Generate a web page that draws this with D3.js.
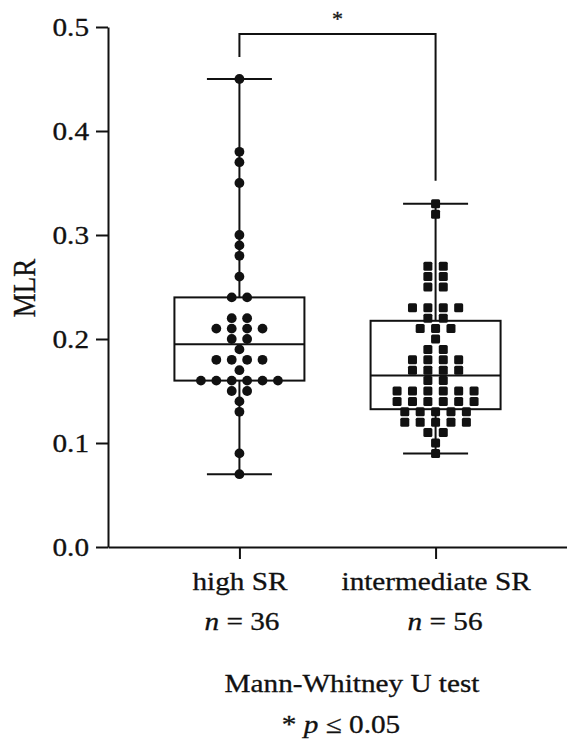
<!DOCTYPE html>
<html>
<head>
<meta charset="utf-8">
<script src="https://cdn.jsdelivr.net/npm/d3@7"></script>
<style>
  body { margin: 0; background: #fff; }
  text { font-family: "Liberation Serif", "Times New Roman", serif; fill: #111; stroke: #111; stroke-width: 0.3px; }
</style>
</head>
<body>
<svg id="chart" width="567" height="745"></svg>
<script>

// data
var groups = ["high SR", "intermediate SR"];
var groupN = [36, 56];
var highSR = [0.45, 0.38, 0.37, 0.35, 0.30, 0.29, 0.28, 0.26, 0.24, 0.24,
  0.22, 0.22, 0.21, 0.21, 0.21, 0.21, 0.20, 0.20, 0.19, 0.18, 0.18, 0.18, 0.18, 0.17,
  0.16, 0.16, 0.16, 0.16, 0.16, 0.16, 0.15, 0.15, 0.14, 0.13, 0.09, 0.07];
var intermediateSR = [0.33, 0.32, 0.27, 0.27, 0.26, 0.26, 0.25, 0.25,
  0.23, 0.23, 0.23, 0.23, 0.22, 0.22, 0.21, 0.21, 0.21, 0.20, 0.19, 0.19,
  0.18, 0.18, 0.18, 0.18, 0.17, 0.17, 0.17, 0.17, 0.16, 0.16,
  0.15, 0.15, 0.15, 0.15, 0.15, 0.15, 0.14, 0.14, 0.14, 0.14, 0.14, 0.14,
  0.13, 0.13, 0.13, 0.13, 0.13, 0.12, 0.12, 0.12, 0.12, 0.12, 0.11, 0.11, 0.10, 0.09];
var yTicks = [0, 0.1, 0.2, 0.3, 0.4, 0.5];
var yLabel = "MLR";
var testName = "Mann-Whitney U test";
var sigMark = "*";
var alpha = "0.05";

var series = [highSR, intermediateSR];

var svg = d3.select("#chart"),
    margin = {top: 27, right: 0, bottom: 198, left: 108},
    width = 567,
    height = 745;

var sx = 1.17;   // the figure's text is a bit wider than normal
var ink = "#111";

// scales
var y_scale = d3.scaleLinear()
    .domain([0, 0.5])
    .range([height - margin.bottom, margin.top]);

var x_scale = d3.scalePoint()
    .domain(groups)
    .range([margin.left, width - margin.right])
    .padding(0.67);

// quantile the way prism does it, (n+1)p
function quant(sorted, p) {
  var h = (sorted.length + 1) * p;
  var lo = Math.floor(h);
  var f = h - lo;
  return sorted[lo - 1] + f * (sorted[lo] - sorted[lo - 1]);
}

var boxW = 130, capW = 65, step = 15.4;

series.forEach(function(vals, gi) {
  var cx = x_scale(groups[gi]);
  var s = vals.slice().sort(d3.ascending);
  var q1 = quant(s, 0.25), med = quant(s, 0.5), q3 = quant(s, 0.75);
  var lo = s[0], hi = s[s.length - 1];
  var g = svg.append("g").attr("stroke", ink).attr("stroke-width", 2).attr("fill", "none");

  // whiskers
  g.append("line").attr("x1", cx).attr("x2", cx).attr("y1", y_scale(q3)).attr("y2", y_scale(hi));
  g.append("line").attr("x1", cx).attr("x2", cx).attr("y1", y_scale(q1)).attr("y2", y_scale(lo));
  g.append("line").attr("x1", cx - capW / 2).attr("x2", cx + capW / 2).attr("y1", y_scale(hi)).attr("y2", y_scale(hi));
  g.append("line").attr("x1", cx - capW / 2).attr("x2", cx + capW / 2).attr("y1", y_scale(lo)).attr("y2", y_scale(lo));

  // box and median
  g.append("rect")
    .attr("x", cx - boxW / 2)
    .attr("y", y_scale(q3))
    .attr("width", boxW)
    .attr("height", y_scale(q1) - y_scale(q3));
  g.append("line").attr("x1", cx - boxW / 2).attr("x2", cx + boxW / 2).attr("y1", y_scale(med)).attr("y2", y_scale(med));

  // scatter points, equal values side by side
  var rows = d3.groups(vals, function(d) { return d.toFixed(2); });
  var pts = [];
  rows.forEach(function(r) {
    var k = r[1].length;
    r[1].forEach(function(v, i) {
      pts.push({v: v, x: cx + (i - (k - 1) / 2) * step});
    });
  });

  if (gi == 0) {
    svg.selectAll(".dot")
      .data(pts)
      .enter()
      .append("circle")
      .attr("class", "dot")
      .attr("cx", function(d) { return d.x; })
      .attr("cy", function(d) { return y_scale(d.v); })
      .attr("r", 4.9)
      .attr("fill", ink);
  } else {
    svg.selectAll(".sq")
      .data(pts)
      .enter()
      .append("rect")
      .attr("class", "sq")
      .attr("x", function(d) { return d.x - 4.5; })
      .attr("y", function(d) { return y_scale(d.v) - 4.5; })
      .attr("width", 9)
      .attr("height", 9)
      .attr("rx", 1.5)
      .attr("fill", ink);
  }
});

// y axis
var y_axis = d3.axisLeft(y_scale)
    .tickValues(yTicks)
    .tickFormat(d3.format(".1f"))
    .tickSize(12)
    .tickSizeOuter(0)
    .tickPadding(7);

var yg = svg.append("g")
    .attr("transform", "translate(" + margin.left + ",0)")
    .call(y_axis);

// x axis
var x_axis = d3.axisBottom(x_scale)
    .tickSize(12)
    .tickSizeOuter(0);

var xg = svg.append("g")
    .attr("transform", "translate(0," + (height - margin.bottom) + ")")
    .call(x_axis);

[yg, xg].forEach(function(a) {
  a.selectAll("path, line").attr("stroke", ink).attr("stroke-width", 2);
  a.selectAll("text").attr("font-family", null).attr("font-size", 25).attr("fill", ink);
});

yg.selectAll(".tick text")
  .attr("x", -19 / sx)
  .attr("transform", "scale(" + sx + ",1)");

xg.selectAll(".tick text")
  .attr("dy", null)
  .attr("y", 43)
  .attr("transform", "scale(" + sx + ",1)");

// n = under each group
xg.selectAll(".tick").each(function(d, i) {
  var t = d3.select(this).append("text")
    .attr("y", 83)
    .attr("x", i == 0 ? 2 / sx : 9 / sx)
    .attr("text-anchor", "middle")
    .attr("font-size", 25)
    .attr("transform", "scale(" + sx + ",1)");
  t.append("tspan").attr("font-style", "italic").text("n");
  t.append("tspan").text(" = " + groupN[i]);
});

// y title
svg.append("text")
  .attr("transform", "translate(35,288) scale(" + sx + ",1) rotate(-90)")
  .attr("text-anchor", "middle")
  .attr("font-size", 27)
  .text(yLabel);

// significance bracket
var xa = x_scale(groups[0]), xb = x_scale(groups[1]);
var topA = y_scale(d3.max(highSR)) - 22;
var topB = y_scale(d3.max(intermediateSR)) - 23;
var barY = margin.top + 7;

svg.append("path")
  .attr("d", "M" + xa + "," + topA + "V" + barY + "H" + xb + "V" + topB)
  .attr("fill", "none")
  .attr("stroke", ink)
  .attr("stroke-width", 2);

svg.append("text")
  .attr("x", (xa + xb) / 2)
  .attr("y", 26)
  .attr("text-anchor", "middle")
  .attr("font-size", 22)
  .text(sigMark);

// test note
svg.append("text")
  .attr("transform", "translate(352,692) scale(" + sx + ",1)")
  .attr("text-anchor", "middle")
  .attr("font-size", 25)
  .text(testName);

var note = svg.append("text")
  .attr("transform", "translate(341,733) scale(" + sx + ",1)")
  .attr("text-anchor", "middle")
  .attr("font-size", 25);
note.append("tspan").text(sigMark + " ");
note.append("tspan").attr("font-style", "italic").text("p");
note.append("tspan").text(" \u2264 " + alpha);

</script>
</body>
</html>
